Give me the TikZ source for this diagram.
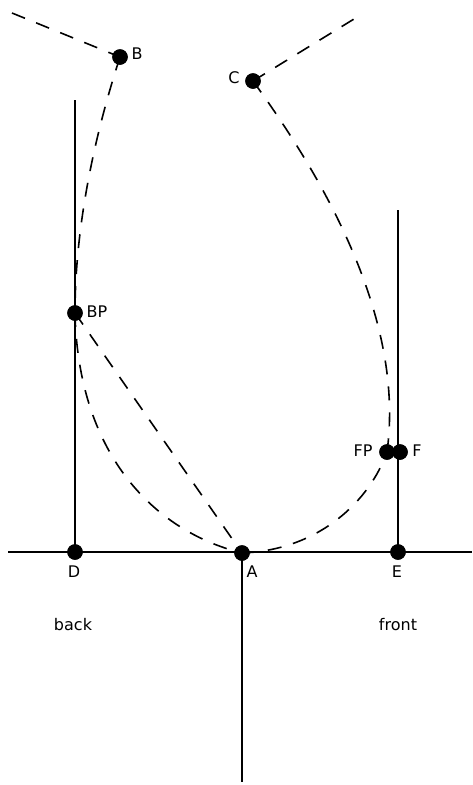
\documentclass[tikz,border=0pt]{standalone}
\usepackage{fontspec}
\setmainfont{DejaVu Sans}
\begin{document}
\begin{tikzpicture}[x=1pt,y=-1pt,
  dot/.style={circle,fill=black,inner sep=0pt,minimum size=15.5pt},
  lbl/.style={inner sep=0pt,font=\fontsize{16}{18}\selectfont},
  solidline/.style={line width=1.4pt},
  dashline/.style={line width=1.6pt,dash pattern=on 14pt off 12pt}]
\useasboundingbox (0,0) rectangle (472,785);
% points
\node[dot] (B) at (120,57) {};
\node[dot] (C) at (253,81) {};
\node[dot] (BP) at (75,313) {};
\node[dot] (D) at (75,552) {};
\node[dot] (A) at (242,553) {};
\node[dot] (E) at (398,552) {};
\node[dot] (FP) at (387,452) {};
\node[dot] (F) at (400,452) {};
\coordinate (Ltop) at (75,100);
\coordinate (Etop) at (398,210);
\coordinate (Hl) at (8,552);
\coordinate (Hr) at (472,552);
\coordinate (Abot) at (242,782);
\coordinate (Bend) at (12,13);
\coordinate (Cend) at (354,19);
% labels
\node[lbl] (lB) at (137,54) {B};
\node[lbl] (lC) at (234,78) {C};
\node[lbl] (lBP) at (97,312) {BP};
\node[lbl] (lFP) at (363,451) {FP};
\node[lbl] (lF) at (417,451) {F};
\node[lbl] (lD) at (74,572) {D};
\node[lbl] (lA) at (252,572) {A};
\node[lbl] (lE) at (397,572) {E};
\node[lbl] (lback) at (73,625) {back};
\node[lbl] (lfront) at (398,625) {front};
% solid lines
\draw[solidline] (Hl) -- (Hr);
\draw[solidline] (Ltop) -- (D.center);
\draw[solidline] (Etop) -- (E.center);
\draw[solidline] (A.center) -- (Abot);
% dashed lines
\draw[dashline] (Bend) -- (B.center);
\draw[dashline] (C.center) -- (Cend);
\draw[dashline] (B.center) .. controls (93,140) and (75,230) .. (BP.center);
\draw[dashline] (BP.center) -- (A.center);
\draw[dashline] (BP.center) .. controls (78,450) and (150,530) .. (A.center);
\draw[dashline] (A.center) .. controls (320,550) and (370,500) .. (FP.center);
\draw[dashline] (C.center) .. controls (325,180) and (405,320) .. (FP.center);
% redraw dots on top
\foreach \n in {B,C,BP,D,A,E,FP,F} \fill (\n) circle (7.75pt);
\end{tikzpicture}
\end{document}
